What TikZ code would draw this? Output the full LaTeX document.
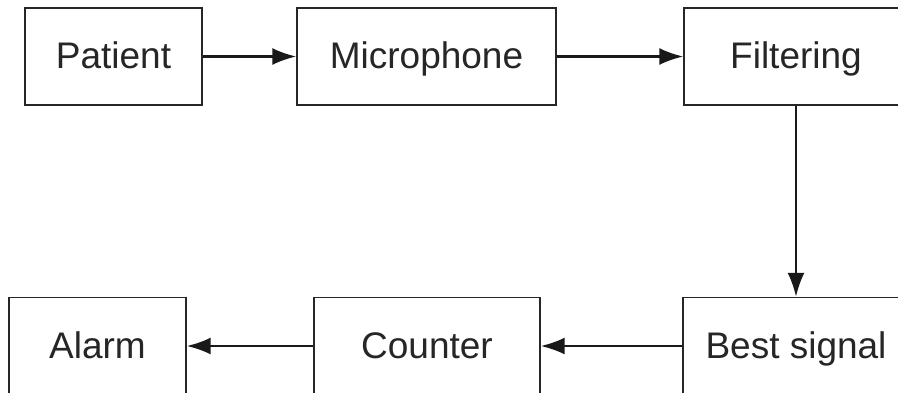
\documentclass[tikz,border=0pt]{standalone}
\usepackage{fontspec}
\setmainfont{Liberation Sans}
\usepackage{tikz}
\usetikzlibrary{positioning,arrows.meta}

\tikzset{
  block/.style={draw=black!85, line width=1.3pt, fill=white, text=black!85,
    minimum height=97pt, inner sep=0pt, text height=26pt, text depth=2pt,
    font=\fontsize{37}{42}\selectfont},
  flow/.style={draw=black!90, line width=2.6pt, -{Latex[length=24pt,width=17pt]}}
}

\begin{document}
\begin{tikzpicture}[x=1pt,y=-1pt]
\path[use as bounding box, clip] (0,0) rectangle (898,392);
% top row
\node[block, minimum width=177pt] (patient) at (113.5,56.5) {Patient};
\node[block, minimum width=259pt] (mic) at (426.5,56.5) {Microphone};
\node[block, minimum width=224pt] (filter) at (796,56.5) {Filtering};
% bottom row
\node[block, minimum width=226pt] (best) at (796,346) {Best signal};
\node[block, minimum width=226pt] (counter) at (427,346) {Counter};
\node[block, minimum width=177pt] (alarm) at (97.5,346) {Alarm};
% connectors
\draw[flow] (patient) -- (mic);
\draw[flow] (mic) -- (filter);
\draw[flow] (filter) -- (best);
\draw[flow] (best) -- (counter);
\draw[flow] (counter) -- (alarm);
\end{tikzpicture}
\end{document}
